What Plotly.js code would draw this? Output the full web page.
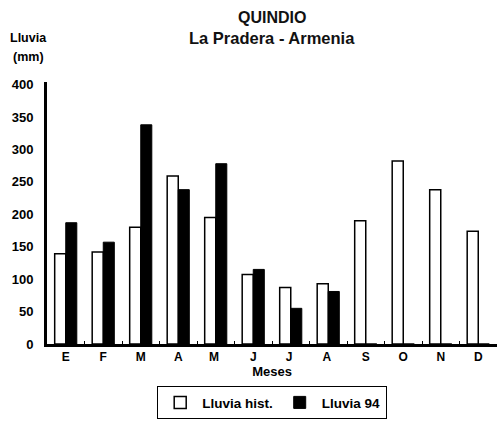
<!DOCTYPE html>
<html><head><meta charset="utf-8">
<script src="https://cdn.plot.ly/plotly-3.0.1.min.js"></script>
<style>html,body{margin:0;padding:0;background:#fff}#chart{width:498px;height:422px}</style>
</head><body><div id="chart"></div>
<script>
const meses = ["E","F","M","A","M ","J","J ","A ","S","O","N","D"];
const lluviaHist = [139, 142, 180, 259, 195, 107, 87, 93, 190, 282, 238, 174];
const lluvia94 = [187, 157, 338, 238, 278, 115, 55, 81, 0, 0, 0, 0];
const yTicks = [0, 50, 100, 150, 200, 250, 300, 350, 400];

const F = "Liberation Sans, Arial, sans-serif";
const traces = [
  {type:"bar", name:"Lluvia hist.", x:meses, y:lluviaHist,
   marker:{color:"#ffffff", line:{color:"#000", width:1.5}}},
  {type:"bar", name:"Lluvia 94", x:meses, y:lluvia94,
   marker:{color:"#000000", line:{color:"#000", width:1}}}
];
const layout = {
  width:498, height:422,
  margin:{l:47, r:1, t:82, b:78},
  paper_bgcolor:"#fff", plot_bgcolor:"#fff",
  font:{family:F, color:"#000", size:12},
  barmode:"group", bargap:0.41, bargroupgap:0,
  showlegend:true,
  legend:{orientation:"h", x:0.5, xanchor:"center", y:-0.16, yanchor:"top",
          bordercolor:"#000", borderwidth:1.2, font:{family:F, size:13.5, color:"#000", weight:"bold"},
          itemwidth:34, tracegroupgap:0},
  xaxis:{type:"category", range:[-0.5, 11.5], showline:true, linecolor:"#000", linewidth:3,
         ticks:"inside", ticklen:3, tickson:"boundaries", tickcolor:"#000",
         tickfont:{family:F, size:12, weight:"bold"}, showgrid:false, zeroline:false,
         title:{text:"<b>Meses</b>", standoff:1, font:{family:F, size:13}}},
  yaxis:{range:[0, 404], tickvals:yTicks, showline:true, linecolor:"#000", linewidth:3,
         ticks:"", showgrid:false, zeroline:false, ticklabelstandoff:8,
         tickfont:{family:F, size:13, weight:"bold"}},
  annotations:[
    {text:"<b>QUINDIO</b>", xref:"paper", yref:"paper", x:0.5, y:1.248,
     xanchor:"center", yanchor:"middle", showarrow:false, font:{family:F, size:16, color:"#111"}},
    {text:"<b>La Pradera - Armenia</b>", xref:"paper", yref:"paper", x:0.5, y:1.168,
     xanchor:"center", yanchor:"middle", showarrow:false, font:{family:F, size:16.5, color:"#111"}},
    {text:"<b>Lluvia</b>", xref:"paper", yref:"paper", x:-0.042, y:1.168,
     xanchor:"center", yanchor:"middle", showarrow:false, font:{family:F, size:12.5}},
    {text:"<b>(mm)</b>", xref:"paper", yref:"paper", x:-0.042, y:1.095,
     xanchor:"center", yanchor:"middle", showarrow:false, font:{family:F, size:12.5}}
  ]
};
Plotly.newPlot("chart", traces, layout, {displayModeBar:false, staticPlot:true});
</script></body></html>
